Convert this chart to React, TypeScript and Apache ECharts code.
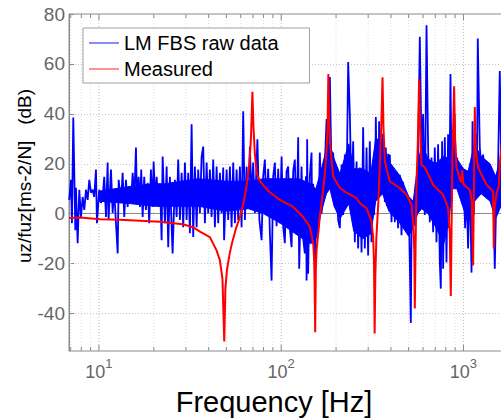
import React, { useEffect, useRef } from 'react';
import * as echarts from 'echarts';

// LM FBS raw data (blue): frequency [Hz] and level [dB]
const blueHz = [
  6.87, 7.02, 7.11, 7.23, 7.42, 7.48, 7.64, 7.8, 7.97, 8.14, 8.31, 8.49, 8.67, 8.85, 9.04, 9.24, 9.42, 9.63, 9.75,
  10.04, 10.26, 10.48, 10.69, 10.93, 11.16, 11.29, 11.64, 11.89, 12.13, 12.4, 12.67, 12.83, 13.2, 13.49, 13.77, 14.06,
  14.37, 14.66, 14.98, 15.31, 15.62, 15.96, 16.16, 16.51, 16.78, 17.06, 17.37, 17.72, 18.1, 18.5, 18.87, 19.28, 19.7,
  19.95, 20.36, 20.73, 21.25, 21.69, 22.07, 22.36, 22.81, 23.01, 23.52, 23.99, 24.51, 25.36, 26.11, 26.68, 27.22, 27.81,
  28.42, 29.0, 29.63, 30.27, 30.89, 31.55, 32.24, 32.9, 33.61, 34.35, 35.04, 35.8, 36.58, 37.33, 38.14, 38.97, 39.76,
  40.62, 41.5, 42.36, 43.27, 44.22, 45.11, 46.09, 47.09, 48.06, 48.6, 49.1, 50.17, 51.19, 52.29, 53.43, 54.53, 55.71,
  56.92, 58.08, 59.33, 60.62, 61.87, 63.21, 64.58, 65.9, 67.32, 68.78, 70.2, 71.71, 74.02, 75.9, 78.04, 79.64, 81.36,
  83.13, 84.82, 86.66, 88.54, 90.36, 92.31, 94.32, 96.24, 98.32, 100.5, 102.5, 104.7, 107.0, 109.2, 111.6, 114.0, 116.3,
  118.8, 121.4, 123.9, 125.5, 129.3, 132.0, 134.8, 136.6, 137.8, 138.8, 140.5, 143.6, 146.7, 148.2, 149.8, 153.0, 156.3,
  159.5, 162.9, 166.5, 169.9, 173.6, 177.4, 181.0, 184.9, 188.9, 192.8, 196.9, 201.2, 205.3, 209.8, 214.3, 218.7, 223.4,
  228.3, 233.0, 238.0, 243.2, 248.2, 253.5, 259.0, 264.3, 270.0, 275.9, 281.5, 287.6, 293.9, 299.8, 306.3, 313.0, 319.4,
  323.5, 328.4, 330.5, 334.7, 338.2, 341.1, 344.5, 348.4, 352.0, 355.1, 358.7, 362.4, 366.6, 370.2, 375.0, 379.7, 386.0,
  390.4, 394.3, 402.9, 411.2, 420.1, 429.2, 438.0, 447.4, 457.1, 466.5, 476.6, 487.0, 495.0, 501.3, 507.7, 514.1, 520.6,
  525.3, 534.0, 540.8, 547.7, 554.6, 563.8, 576.0, 588.5, 600.7, 613.6, 627.0, 639.7, 653.5, 667.7, 681.4, 696.1, 711.3,
  725.8, 741.5, 751.0, 763.4, 773.2, 789.9, 807.1, 823.5, 833.9, 848.7, 862.8, 877.2, 892.8, 907.5, 922.7, 946.1, 963.0,
  987.6, 1004, 1021, 1039, 1060, 1083, 1107, 1121, 1139, 1168, 1188, 1198, 1229, 1255, 1281, 1309, 1337, 1365, 1394,
  1424, 1454, 1485, 1517, 1548, 1582, 1612, 1643,
];
const blueDb = [
  5.5, 13.6, -3.8, 38.5, -6.6, 10.4, -11.8, 9.6, -1.3, 6.7, 1.5, 9.6, 5.5, 13.6, 8.4, 9.6, 6.7, 17.7, -3.8,
  9.6, 4.3, 6.7, 14.8, -1.3, 20.5, -2.5, 17.7, 0.3, 9.6, -3.8, -15.9, 13.6, 4.3, 16.4, -1.3, 13.6,
  2.7, 10.8, 4.3, 16.4, 5.5, 26.5, 5.5, 14.8, 2.7, 17.7, -1.3, 14.8, 1.5, 12.4, -3.8, 17.7, 2.7,
  20.9, 5.5, 14.8, 2.7, 9.6, -10.6, 22.9, 4.3, -3.8, 18.9, -13.4, 14.8, -15.9, 13.6, -1.3, 21.7, -2.5,
  16.4, -5.4, 20.5, -2.5, 16.4, -7.8, 35.8, -9.3, 18.9, -5.4, 17.7, 0.3, 22.9, 26.9, -3.8, 20.5, 0.3,
  17.7, -1.3, 21.7, -5.4, 18.9, -3.8, 16.4, 0.3, 18.5, -10.6, -1.3, 17.7, -2.5, 18.9, -5.4, 20.5, -3.8,
  17.7, -2.5, 18.9, -5.4, 41, -2.5, 18.9, 2.7, 26.9, 5.5, 20.5, 0.3, 29.8, -2.5, -10.6, 15, 21.7,
  0, 18, -7.8, -26.8, 15, 20.5, -5, 18, -3.8, 22.9, -5, -11.8, 17, 18.9, -6, -13.4, 17,
  21.7, -8, 30.6, -22, 18.9, -10, -15.9, 15, -26.8, 29.8, -24, 15, 24.5, -12, 12, -26, 10,
  -8, 24.5, 0, 10.8, 20, 37.9, 20, 54.8, 15, 24.5, 5, 13.6, -2.5, -5.8, 19.7, -0.5, 23.7,
  7.6, 60.8, 39.9, 4.7, 29, -11.4, 20.9, -13.9, 18.5, -15.5, 34.6, -13.9, 26.5, -16.7, 29, -11.4, 19.7,
  -0.5, 20, 38.7, 10, 30, 8, 37, 12, 30, 8, 32, 10, 29, 4.7, 26.5, 3, 24,
  2.3, 23.7, -3.4, 18.5, -3.4, 16.8, -5.8, 15.6, -8.6, 12.8, -5.8, 4.7, -8, 4, -19.5, -43.8, 5,
  -5.8, 4.7, -3, 12.8, 5, 19.7, 70.9, 26.5, 39.9, -0.5, 75.5, 26.5, -3.4, 22.5, -7.4, 26.5, -11.4,
  27.8, -19.5, -30, 29, -22, 30.6, -19.5, 31.8, -5.8, 56, 4.7, 23.7, 39.9, 18.5, 22.5, 12.8, 18.5,
  4.7, 12.8, -5.8, 12.8, -13.9, 15.6, -23.6, 37, -0.5, 31.8, 23.7, 70.2, 26.5, 18.5, 23.7, 15.6, 19.7, 12.8, 16.8,
  7.6, 12.8, -22, 10.4, 18.5, 57.2, 20, 45,
];

// Dense core of the raw data (where the blue trace fills solidly): frequency, lower and upper level [dB]
const coreHz = [
  10, 15, 20, 23, 35, 50, 66, 80, 100, 125, 145, 155, 165, 177, 185, 195, 210, 235, 250, 280, 310, 330, 360,
  390, 450, 500, 530, 560, 590, 640, 700, 780, 830, 870, 920, 1000, 1060, 1150, 1250, 1400, 1500, 1650,
];
const coreLowDb = [
  5, 4, 3, 3, 3, 1, 2, 0, -4, -9, -12, -10, 0, 8, 10, 3, -2, 4, -7, -10, -8, 5, 8,
  1, -4, -9, -6, 0, 2, 0, -5, -12, -3, 10, 10, 2, -4, 5, 8, 5, -2, 5,
];
const coreHighDb = [
  9, 11, 12, 12, 14, 13, 13, 14, 14, 14, 12, 10, 17, 26, 28, 22, 16, 28, 18, 18, 16, 30, 28,
  21, 15, 7, 5, 19, 28, 22, 20, 23, 22, 30, 22, 18, 17, 28, 23, 20, 15, 25,
];

// Measured (red): frequency [Hz] and level [dB]
const redHz = [
  6.85, 7.87, 10.13, 13.04, 16.78, 21.6, 28.9, 32.8, 35.8, 40.6, 44.2, 46.1, 47.6, 48.7, 49.4, 50.35, 52.0, 53.6,
  56.4, 59.3, 62.4, 64.8, 66.9, 68.2, 69.5, 70.4, 71.7, 73.5, 76.4, 83.4, 98.3, 115.9, 131.5, 143.6, 149.8, 152.0,
  153.6, 154.9, 156.3, 162.9, 169.9, 173.6, 177.4, 179.6, 181.4, 183.7, 186.5, 192.8, 209.8, 228.3, 259, 270, 293.9,
  306.3, 313, 319.4, 323, 325.5, 328.4, 332.6, 340.2, 350.6, 355.5, 359.6, 363.8, 370.2, 394.3, 447.4, 487, 518.7,
  530.7, 537.4, 540.8, 545.7, 552.6, 561.7, 571, 578.2, 588.5, 613.6, 681.4, 773.2, 823.5, 841.2, 852, 860.5, 870.5,
  888.3, 899.6, 915.7, 954.5, 972.7, 985.1, 997.7, 1029.7, 1083, 1110.8, 1129.3, 1139.1, 1153.7, 1168.3, 1202.6,
  1337.2, 1453.7, 1466.4, 1478.5, 1517.2, 1561.9, 1581.8, 1622, 1668,
];
const redDb = [
  -1.7, -1.5, -2.2, -2.4, -2.8, -3.2, -4.2, -5.4, -7.2, -9.4, -14.7, -18.7, -26, -51.2, -30, -22.7, -16.5, -12,
  -6, -1.5, 5, 12, 20, 30, 48.8, 35, 24, 16, 13, 9.6, 5.5, 2.8, -1.2, -5.3, -11.8, -20,
  -47.5, -22, -14.7, -1.2, 9.6, 16, 25.7, 35, 56, 35, 25.7, 14.9, 10.3, 8.4, 6.2, 4.3, 2.2,
  -1.2, -3.2, -9.3, -20, -48, -25, -10, 3, 26.5, 40, 54.7, 35, 21, 12.9, 10.3, 7.6, 3.5,
  -4.6, -15, -38, -15, 12.9, 28, 54, 35, 19.7, 18.5, 11.6, 7.6, 2.3, -8, -33, -5, 23.7,
  51, 30, 18.5, 14, 12.5, 17.5, 12, 11, 9.5, 5, -20.7, 5, 42.7, 25, 18.5,
  11.6, 9, -13.9, 2, 8, 11, 20, 28, 25,
];

const seriesNames = ['LM FBS raw data', 'Measured'];
const majorGridHz = [10, 100, 1000];
const minorGridHz = [7, 8, 9, 20, 30, 40, 50, 60, 70, 80, 90, 200, 300, 400, 500, 600, 700, 800, 900];
const xTitle = 'Frequency [Hz]';
const yTitle = 'uz/fuz[ms-2/N]   (dB)';

const X_MIN = 6.85;
const X_MAX = 1800;
const Y_MIN = -55;
const Y_MAX = 80;

export default function App() {
  const ref = useRef<HTMLDivElement>(null);

  useEffect(() => {
    if (!ref.current) return;
    const chart = echarts.init(ref.current, null, { renderer: 'svg' });
    const font = "'Liberation Sans', Arial, Helvetica, sans-serif";
    const axisColor = '#8a8a8a';
    const blue = '#0000ff';

    const gridData = [
      ...majorGridHz.map((f) => [f, 1]),
      ...minorGridHz.map((f) => [f, 0]),
    ];

    chart.setOption({
      animation: false,
      grid: {
        left: 69,
        top: 14,
        width: 441,
        height: 337,
        show: true,
        borderColor: axisColor,
        borderWidth: 1,
        backgroundColor: 'transparent',
      },
      xAxis: {
        type: 'log',
        logBase: 10,
        min: X_MIN,
        max: X_MAX,
        axisLine: { show: true, lineStyle: { color: axisColor, width: 1 } },
        axisTick: { show: false },
        splitLine: { show: false },
        axisLabel: {
          showMinLabel: false,
          showMaxLabel: false,
          margin: 6,
          formatter: (v: number) => `{b|10}{s|${Math.round(Math.log10(v))}}`,
          rich: {
            b: { fontSize: 18, lineHeight: 30, color: '#666', fontFamily: font },
            s: { fontSize: 13, lineHeight: 13, color: '#666', fontFamily: font, verticalAlign: 'top' },
          },
        },
      },
      yAxis: {
        type: 'value',
        min: Y_MIN,
        max: Y_MAX,
        splitNumber: 7,
        axisLine: { show: true, lineStyle: { color: axisColor, width: 1 } },
        axisTick: { show: true, inside: true, length: 5, lineStyle: { color: axisColor } },
        axisLabel: { showMinLabel: false, color: '#666', fontSize: 19, fontFamily: font, margin: 4 },
        splitLine: { show: true, lineStyle: { color: '#c4c4c4', type: [1, 2], width: 1 } },
      },
      legend: {
        orient: 'vertical',
        left: 83,
        top: 28,
        padding: [5, 31, 4, 6],
        itemGap: 6,
        itemWidth: 30,
        itemHeight: 2,
        icon: 'rect',
        backgroundColor: '#fff',
        borderColor: '#a0a0a0',
        borderWidth: 1,
        borderRadius: 0,
        textStyle: { fontSize: 20, color: '#000', fontFamily: font },
        data: [
          { name: seriesNames[0], icon: 'rect', itemStyle: { color: '#8a8aff' } },
          { name: seriesNames[1], icon: 'rect', itemStyle: { color: '#ff9090' } },
        ],
      },
      series: [
        {
          type: 'custom',
          name: 'grid',
          silent: true,
          z: 1,
          data: gridData,
          renderItem: (params: any, api: any) => {
            const f = api.value(0);
            const major = api.value(1) === 1;
            const b = api.coord([f, Y_MIN]);
            const t = api.coord([f, Y_MAX]);
            const tl = major ? 6 : 4;
            return {
              type: 'group',
              children: [
                {
                  type: 'line',
                  shape: { x1: b[0], y1: b[1], x2: t[0], y2: t[1] },
                  style: { stroke: major ? '#bcbcbc' : '#dedede', lineWidth: 1, lineDash: [1, 2] },
                },
                {
                  type: 'line',
                  shape: { x1: b[0], y1: b[1], x2: b[0], y2: b[1] - tl },
                  style: { stroke: axisColor, lineWidth: 1 },
                },
                {
                  type: 'line',
                  shape: { x1: t[0], y1: t[1], x2: t[0], y2: t[1] + tl },
                  style: { stroke: axisColor, lineWidth: 1 },
                },
              ],
            };
          },
        },
        {
          type: 'custom',
          name: 'raw data core',
          silent: true,
          z: 2,
          data: coreHz.map((f, i) => [f, coreLowDb[i], coreHighDb[i]]),
          encode: { x: 0, y: [1, 2] },
          renderItem: (params: any, api: any) => {
            if (params.dataIndex !== 0) return null;
            const pts: number[][] = [];
            for (let i = 0; i < coreHz.length; i++) pts.push(api.coord([coreHz[i], coreHighDb[i]]));
            for (let i = coreHz.length - 1; i >= 0; i--) pts.push(api.coord([coreHz[i], coreLowDb[i]]));
            return {
              type: 'polygon',
              shape: { points: pts },
              style: { fill: blue, stroke: blue, lineWidth: 1 },
            };
          },
        },
        {
          type: 'line',
          name: seriesNames[0],
          z: 3,
          symbol: 'none',
          showSymbol: false,
          data: blueHz.map((f, i) => [f, blueDb[i]]),
          lineStyle: { color: blue, width: 1.8 },
          itemStyle: { color: blue },
        },
        {
          type: 'line',
          name: seriesNames[1],
          z: 4,
          symbol: 'none',
          showSymbol: false,
          data: redHz.map((f, i) => [f, redDb[i]]),
          lineStyle: { color: '#ff0000', width: 2 },
          itemStyle: { color: '#ff0000' },
        },
      ],
      graphic: [
        {
          type: 'text',
          x: 24,
          y: 176,
          rotation: Math.PI / 2,
          style: {
            text: yTitle,
            fontSize: 19,
            fontFamily: font,
            fill: '#000',
            align: 'center',
            verticalAlign: 'middle',
          },
        },
        {
          type: 'text',
          x: 274,
          y: 402,
          style: {
            text: xTitle,
            fontSize: 29,
            fontFamily: font,
            fill: '#000',
            align: 'center',
            verticalAlign: 'middle',
          },
        },
      ],
    });

    return () => chart.dispose();
  }, []);

  return (
    <div
      ref={ref}
      style={{ position: 'fixed', left: 0, top: 0, width: 530, height: 419, background: '#fff' }}
    />
  );
}
